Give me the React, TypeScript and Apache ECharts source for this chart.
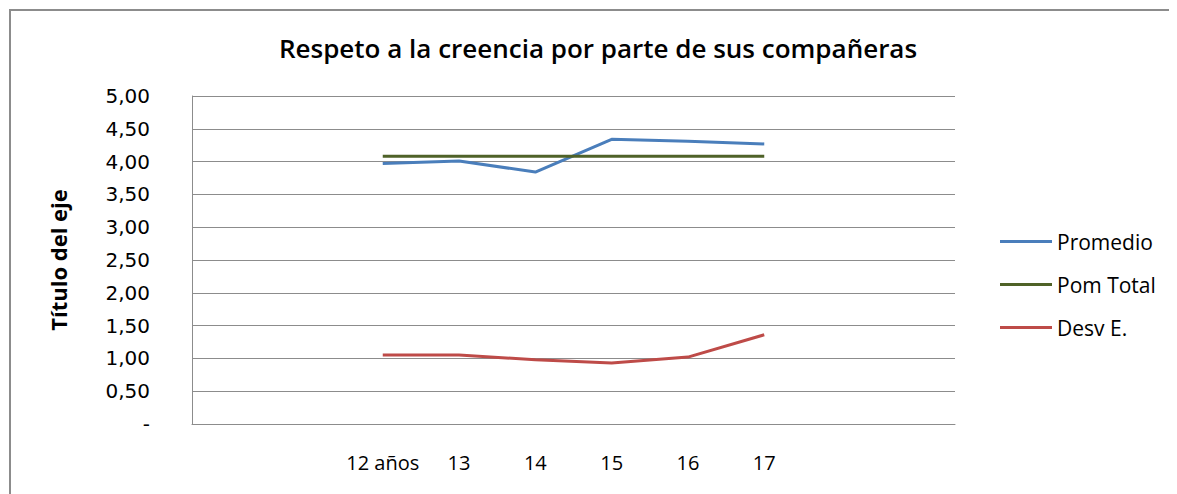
import React, { useEffect, useRef } from "react";
import * as echarts from "echarts";

const categories = ["", "", "12 años", "13", "14", "15", "16", "17", "", ""];
const promedio = [null, null, 3.97, 4.01, 3.84, 4.34, 4.31, 4.27, null, null];
const pomTotal = [null, null, 4.08, 4.08, 4.08, 4.08, 4.08, 4.08, null, null];
const desvE = [null, null, 1.05, 1.05, 0.98, 0.93, 1.02, 1.36, null, null];
const seriesNames = ["Promedio", "Pom Total", "Desv E."];
const title = "Respeto a la creencia por parte de sus compañeras";
const yTitle = "Título del eje";

export default function App() {
  const ref = useRef<HTMLDivElement>(null);
  useEffect(() => {
    const chart = echarts.init(ref.current!, null, { renderer: "svg" });
    const font = "'Open Sans', 'Noto Sans', sans-serif";
    chart.setOption({
      animation: false,
      backgroundColor: "#ffffff",
      textStyle: { fontFamily: font },
      graphic: [
        {
          type: "polyline",
          shape: { points: [[2, 600], [2, 2], [1200, 2]] },
          style: { stroke: "#8c8c8c", lineWidth: 2, fill: "none" },
        },
        {
          type: "text",
          x: 590,
          y: 40,
          style: {
            text: title,
            fontSize: 26,
            fontWeight: 600,
            fontFamily: font,
            fill: "#000",
            textAlign: "center",
            textVerticalAlign: "middle",
          },
        },
      ],
      legend: {
        orient: "vertical",
        left: 987,
        top: 218,
        itemWidth: 52,
        itemHeight: 3,
        itemGap: 22,
        icon: "rect",
        textStyle: { fontSize: 21, color: "#000", fontFamily: font },
        data: seriesNames,
      },
      grid: { left: 184, top: 88, width: 763, height: 328, containLabel: false },
      xAxis: {
        type: "category",
        data: categories,
        boundaryGap: true,
        axisLine: { lineStyle: { color: "#8c8c8c", width: 1 } },
        axisTick: { show: false },
        axisLabel: { fontSize: 20, color: "#000", margin: 28, interval: 0, fontFamily: font },
      },
      yAxis: {
        type: "value",
        min: 0,
        max: 5,
        interval: 0.5,
        name: yTitle,
        nameLocation: "middle",
        nameGap: 123,
        nameTextStyle: { fontSize: 22, fontWeight: "bold", color: "#000", fontFamily: font },
        axisLine: { show: true, lineStyle: { color: "#8c8c8c" } },
        axisTick: { show: false },
        splitLine: { lineStyle: { color: "#8c8c8c", width: 1 } },
        axisLabel: {
          fontSize: 20,
          color: "#000",
          margin: 42,
          fontFamily: "'DejaVu Sans', sans-serif",
          formatter: (v: number) => (v === 0 ? "-" : v.toFixed(2).replace(".", ",")),
        },
      },
      series: [
        { name: seriesNames[0], type: "line", data: promedio, symbol: "none", color: "#4A7EBB", lineStyle: { width: 3 } },
        { name: seriesNames[1], type: "line", data: pomTotal, symbol: "none", color: "#4F6228", lineStyle: { width: 3 } },
        { name: seriesNames[2], type: "line", data: desvE, symbol: "none", color: "#BE4B48", lineStyle: { width: 3 } },
      ],
    });
    return () => chart.dispose();
  }, []);
  return <div ref={ref} style={{ width: 1169, height: 486 }} />;
}
